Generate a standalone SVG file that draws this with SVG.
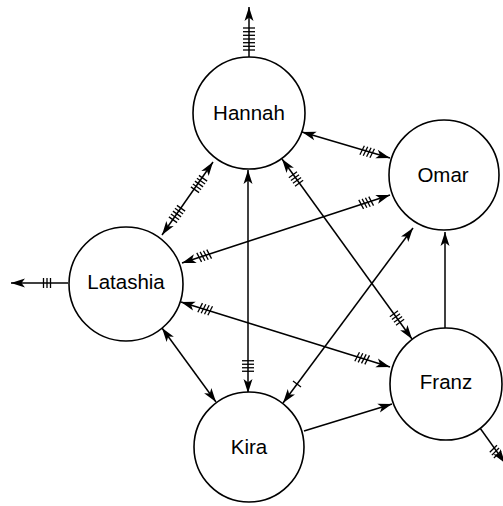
<svg xmlns="http://www.w3.org/2000/svg" width="503" height="506" viewBox="0 0 503 506">
<defs>
<marker id="arr" markerUnits="userSpaceOnUse" markerWidth="16" markerHeight="10" refX="14" refY="4.5" orient="auto-start-reverse" overflow="visible">
<path d="M0,0 L14,4.5 L0,9 L3.5,4.5 z" fill="#000"/>
</marker>
<style>
.node circle{fill:#fff;stroke:#000;stroke-width:1.6}
.node text{font-family:"Liberation Sans",Arial,sans-serif;font-size:20.5px;fill:#000;text-anchor:middle}
.edges line{stroke:#000;stroke-width:1.5;fill:none}
.e1{marker-end:url(#arr)}
.e2{marker-start:url(#arr);marker-end:url(#arr)}
.ticks line{stroke:#000;stroke-width:1.3}
</style>
</defs>
<rect width="503" height="506" fill="#fff"/>
<g id="connectors" class="edges">
<line class="e1" x1="249" y1="57" x2="249" y2="7"/>
<line class="e1" x1="68" y1="283" x2="11" y2="283"/>
<line class="e1" x1="480" y1="428" x2="505" y2="463"/>
<line class="e2" x1="302" y1="132" x2="390" y2="158"/>
<line class="e2" x1="213" y1="162" x2="162" y2="235"/>
<line class="e2" x1="248" y1="170" x2="248" y2="393"/>
<line class="e2" x1="282" y1="159" x2="412" y2="339"/>
<line class="e2" x1="390" y1="195" x2="182" y2="263"/>
<line class="e2" x1="181" y1="302" x2="390" y2="367"/>
<line class="e2" x1="413" y1="228" x2="283" y2="403"/>
<line class="e2" x1="162" y1="328" x2="216" y2="402"/>
<line class="e1" x1="304" y1="431" x2="392" y2="404"/>
<line class="e1" x1="445" y1="328" x2="445" y2="232"/>
<g class="ticks">
<g transform="translate(249,39) rotate(90)"><line x1="-11" y1="-6" x2="-11" y2="6"/><line x1="-7.3" y1="-6" x2="-7.3" y2="6"/><line x1="-3.7" y1="-6" x2="-3.7" y2="6"/><line x1="0" y1="-6" x2="0" y2="6"/><line x1="3.7" y1="-6" x2="3.7" y2="6"/><line x1="7.3" y1="-6" x2="7.3" y2="6"/><line x1="11" y1="-6" x2="11" y2="6"/></g>
<g transform="translate(47,283)"><line x1="-3.5" y1="-5" x2="-3.5" y2="5"/><line x1="0" y1="-5" x2="0" y2="5"/><line x1="3.5" y1="-5" x2="3.5" y2="5"/></g>
<g transform="translate(495,451) rotate(54)"><line x1="-3.5" y1="-5" x2="-2" y2="5"/><line x1="0" y1="-5" x2="1.5" y2="5"/><line x1="3.5" y1="-5" x2="5" y2="5"/></g>
<g transform="translate(368,152) rotate(16.5)"><line x1="-5.25" y1="-5" x2="-7" y2="5"/><line x1="-1.75" y1="-5" x2="-3.5" y2="5"/><line x1="1.75" y1="-5" x2="0" y2="5"/><line x1="5.25" y1="-5" x2="3.5" y2="5"/></g>
<g transform="translate(199,184) rotate(125)"><line x1="-7" y1="-5" x2="-7" y2="5"/><line x1="-3.5" y1="-5" x2="-3.5" y2="5"/><line x1="0" y1="-5" x2="0" y2="5"/><line x1="3.5" y1="-5" x2="3.5" y2="5"/><line x1="7" y1="-5" x2="7" y2="5"/></g>
<g transform="translate(177,214) rotate(125)"><line x1="-7" y1="-5" x2="-7" y2="5"/><line x1="-3.5" y1="-5" x2="-3.5" y2="5"/><line x1="0" y1="-5" x2="0" y2="5"/><line x1="3.5" y1="-5" x2="3.5" y2="5"/><line x1="7" y1="-5" x2="7" y2="5"/></g>
<g transform="translate(248,366) rotate(90)"><line x1="-5.25" y1="-6" x2="-5.25" y2="6"/><line x1="-1.75" y1="-6" x2="-1.75" y2="6"/><line x1="1.75" y1="-6" x2="1.75" y2="6"/><line x1="5.25" y1="-6" x2="5.25" y2="6"/></g>
<g transform="translate(296,179) rotate(54.2)"><line x1="-5.25" y1="-5" x2="-5.25" y2="5"/><line x1="-1.75" y1="-5" x2="-1.75" y2="5"/><line x1="1.75" y1="-5" x2="1.75" y2="5"/><line x1="5.25" y1="-5" x2="5.25" y2="5"/></g>
<g transform="translate(397,318) rotate(54.2)"><line x1="-5.25" y1="-5" x2="-5.25" y2="5"/><line x1="-1.75" y1="-5" x2="-1.75" y2="5"/><line x1="1.75" y1="-5" x2="1.75" y2="5"/><line x1="5.25" y1="-5" x2="5.25" y2="5"/></g>
<g transform="translate(367,202.5) rotate(161.9)"><line x1="-5.25" y1="-5" x2="-3.5" y2="5"/><line x1="-1.75" y1="-5" x2="0" y2="5"/><line x1="1.75" y1="-5" x2="3.5" y2="5"/><line x1="5.25" y1="-5" x2="7" y2="5"/></g>
<g transform="translate(205,255.5) rotate(161.9)"><line x1="-5.25" y1="-5" x2="-3.5" y2="5"/><line x1="-1.75" y1="-5" x2="0" y2="5"/><line x1="1.75" y1="-5" x2="3.5" y2="5"/><line x1="5.25" y1="-5" x2="7" y2="5"/></g>
<g transform="translate(206,309.5) rotate(17.3)"><line x1="-5.25" y1="-5" x2="-7" y2="5"/><line x1="-1.75" y1="-5" x2="-3.5" y2="5"/><line x1="1.75" y1="-5" x2="0" y2="5"/><line x1="5.25" y1="-5" x2="3.5" y2="5"/></g>
<g transform="translate(363,358.6) rotate(17.3)"><line x1="-5.25" y1="-5" x2="-7" y2="5"/><line x1="-1.75" y1="-5" x2="-3.5" y2="5"/><line x1="1.75" y1="-5" x2="0" y2="5"/><line x1="5.25" y1="-5" x2="3.5" y2="5"/></g>
<g transform="translate(297,384) rotate(126.6)"><line x1="0" y1="-5" x2="0" y2="5"/></g>
</g>
</g>
<g id="Hannah" class="node"><circle cx="249" cy="113" r="56"/><text x="249" y="120">Hannah</text></g>
<g id="Omar" class="node"><circle cx="444" cy="175" r="55"/><text x="443" y="182">Omar</text></g>
<g id="Latashia" class="node"><circle cx="126" cy="284" r="57"/><text x="126" y="289">Latashia</text></g>
<g id="Franz" class="node"><circle cx="446" cy="384" r="56"/><text x="446" y="389">Franz</text></g>
<g id="Kira" class="node"><circle cx="249" cy="447" r="55"/><text x="249" y="454">Kira</text></g>
</svg>
